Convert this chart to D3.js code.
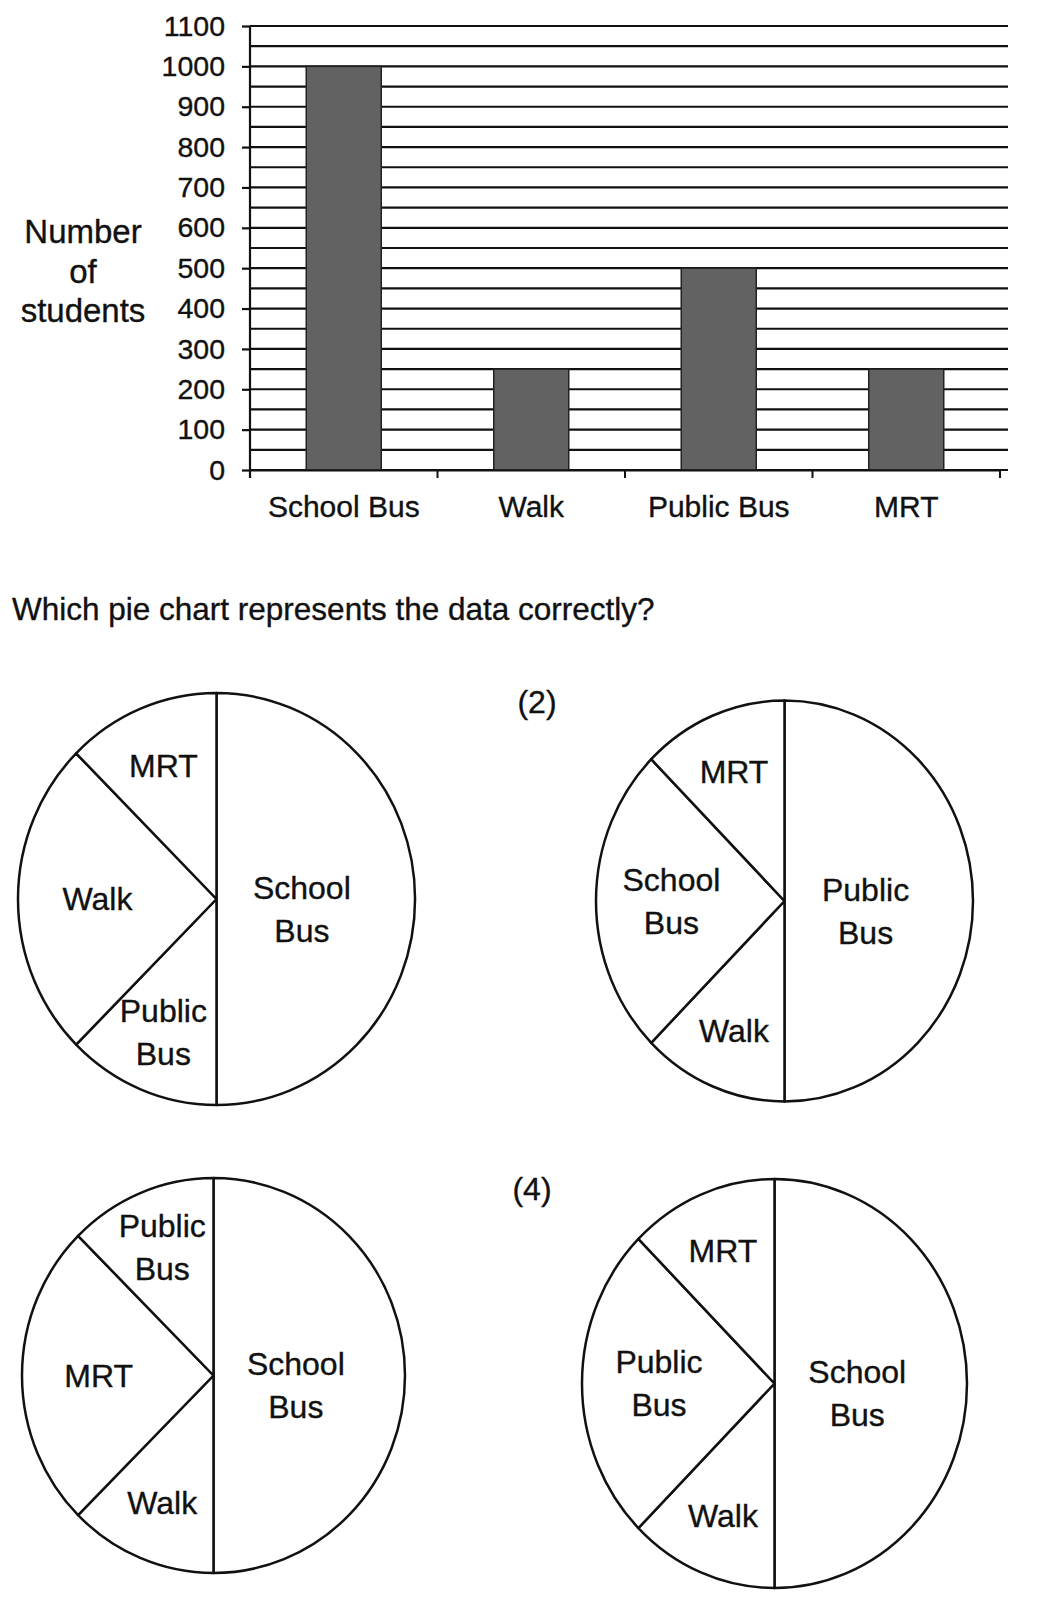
<!DOCTYPE html>
<html lang="en">
<head>
    <meta charset="UTF-8">
    <title>Number of students</title>
    <style>
        body { margin: 0; background: #fff; }
        text { font-family: "Liberation Sans", Arial, sans-serif; fill: #111; stroke: #111; stroke-width: 0.35px; }
    </style>
</head>
<body>
<div id="chart"></div>
<script src="https://cdn.jsdelivr.net/npm/d3@7/dist/d3.min.js"></script>
<script>
    // bar chart data
    const categories = ["School Bus", "Walk", "Public Bus", "MRT"];
    const students = [1000, 250, 500, 250];
    const yTickValues = [0, 100, 200, 300, 400, 500, 600, 700, 800, 900, 1000, 1100];

    // pie options: slices clockwise from 12 o'clock, sizes in degrees
    const pie1Labels = ["School Bus", "Public Bus", "Walk", "MRT"];
    const pie1Degrees = [180, 45, 90, 45];
    const pie2Labels = ["Public Bus", "Walk", "School Bus", "MRT"];
    const pie2Degrees = [180, 45, 90, 45];
    const pie3Labels = ["School Bus", "Walk", "MRT", "Public Bus"];
    const pie3Degrees = [180, 45, 90, 45];
    const pie4Labels = ["School Bus", "Walk", "Public Bus", "MRT"];
    const pie4Degrees = [180, 45, 90, 45];
    const optionTags = ["", "(2)", "", "(4)"];

    const width = 1053,
        height = 1603;

    let svg = d3.select("#chart")
        .append("svg")
        .attr("width", width)
        .attr("height", height);

    // ---- bar chart ----
    const plotLeft = 250, plotRight = 1000, plotTop = 26, plotBottom = 470;

    var y = d3.scaleLinear()
        .domain([0, 1100])
        .range([plotBottom, plotTop]);

    var x = d3.scaleBand()
        .domain(categories)
        .range([plotLeft, plotRight])
        .paddingInner(0.6)
        .paddingOuter(0.3);

    let chart = svg.append("g").classed("bars", true);

    // gridlines every 50
    chart.append("g")
        .selectAll("line")
        .data(d3.range(0, 1101, 50))
        .join("line")
        .attr("x1", plotLeft)
        .attr("x2", plotRight + 8)
        .attr("y1", d => y(d))
        .attr("y2", d => y(d))
        .attr("stroke", "#111")
        .attr("stroke-width", 2.2);

    // y axis
    var yAxis = d3.axisLeft(y)
        .tickValues(yTickValues)
        .tickFormat(d3.format("d"))
        .tickSize(8)
        .tickSizeOuter(0)
        .tickPadding(17);

    let gy = chart.append("g")
        .attr("transform", `translate(${plotLeft}, 0)`)
        .call(yAxis);
    gy.select(".domain").remove();
    gy.selectAll(".tick line").attr("stroke", "#111").attr("stroke-width", 2.2);
    gy.selectAll(".tick text")
        .style("font-family", '"Liberation Sans", Arial, sans-serif')
        .style("font-size", "28.5px")
        .attr("fill", "#111");

    chart.append("line")
        .attr("x1", plotLeft).attr("x2", plotLeft)
        .attr("y1", plotTop).attr("y2", plotBottom + 8)
        .attr("stroke", "#111").attr("stroke-width", 2.2);

    // bars
    chart.append("g")
        .selectAll("rect")
        .data(categories)
        .join("rect")
        .attr("x", d => x(d))
        .attr("y", (d, i) => y(students[i]))
        .attr("width", x.bandwidth())
        .attr("height", (d, i) => y(0) - y(students[i]))
        .attr("fill", "#626262")
        .attr("stroke", "#222")
        .attr("stroke-width", 1.5);

    // x axis with ticks at category boundaries
    var xAxis = d3.axisBottom(x)
        .tickSize(0)
        .tickSizeOuter(0)
        .tickPadding(26);

    let gx = chart.append("g")
        .attr("transform", `translate(0, ${plotBottom})`)
        .call(xAxis);
    gx.select(".domain").attr("stroke", "#111").attr("stroke-width", 2.2);
    gx.selectAll(".tick text")
        .style("font-family", '"Liberation Sans", Arial, sans-serif')
        .style("font-size", "30px")
        .attr("fill", "#111");

    const step = x.step();
    chart.append("g")
        .selectAll("line")
        .data(d3.range(categories.length + 1))
        .join("line")
        .attr("x1", i => plotLeft + i * step)
        .attr("x2", i => plotLeft + i * step)
        .attr("y1", plotBottom)
        .attr("y2", plotBottom + 8)
        .attr("stroke", "#111")
        .attr("stroke-width", 2);

    // y axis title
    chart.append("text")
        .attr("text-anchor", "middle")
        .style("font-size", "33px")
        .selectAll("tspan")
        .data(["Number", "of", "students"])
        .join("tspan")
        .attr("x", 83)
        .attr("y", (d, i) => 243 + i * 39.5)
        .text(d => d);

    // question
    svg.append("text")
        .attr("x", 12)
        .attr("y", 620)
        .style("font-size", "31.5px")
        .text("Which pie chart represents the data correctly?");

    // ---- pie charts ----
    const pieLayout = [
        {cx: 216.5, cy: 899, rx: 198.5, ry: 206},
        {cx: 784.5, cy: 901, rx: 188.5, ry: 200.5},
        {cx: 213.5, cy: 1375.5, rx: 191.5, ry: 197.5},
        {cx: 774.5, cy: 1383.5, rx: 192.5, ry: 204.5}
    ];
    const pieLabels = [pie1Labels, pie2Labels, pie3Labels, pie4Labels];
    const pieDegrees = [pie1Degrees, pie2Degrees, pie3Degrees, pie4Degrees];
    const tagPos = [null, {x: 537, y: 713}, null, {x: 532, y: 1200}];

    var pie = d3.pie().sort(null).value(d => d);

    pieLayout.forEach((p, n) => {
        const k = p.ry / p.rx;
        const slices = pie(pieDegrees[n]);
        let g = svg.append("g").attr("transform", `translate(${p.cx}, ${p.cy})`);

        let shapes = g.append("g").attr("transform", `scale(1, ${k})`);
        var arc = d3.arc().innerRadius(0).outerRadius(p.rx);
        shapes.selectAll("path")
            .data(slices)
            .join("path")
            .attr("d", arc)
            .attr("fill", "#fff")
            .attr("stroke", "#111")
            .attr("stroke-width", 2.5)
            .attr("stroke-linejoin", "round")
            .attr("vector-effect", "non-scaling-stroke");

        slices.forEach((d, i) => {
            const span = d.endAngle - d.startAngle;
            const f = span > Math.PI * 0.9 ? 0.43 : (span > Math.PI * 0.4 ? 0.6 : 0.7);
            const shift = span > Math.PI * 0.9 ? 10 : 0;
            const la = d3.arc().innerRadius(p.rx * f).outerRadius(p.rx * f);
            const c = la.centroid(d);
            const lines = pieLabels[n][i].split(" ");
            g.append("text")
                .attr("text-anchor", "middle")
                .style("font-size", "32px")
                .selectAll("tspan")
                .data(lines)
                .join("tspan")
                .attr("x", c[0])
                .attr("y", (t, j) => c[1] * k + shift + (j - (lines.length - 1) / 2) * 43)
                .attr("dy", "0.35em")
                .text(t => t);
        });

        if (optionTags[n]) {
            svg.append("text")
                .attr("x", tagPos[n].x)
                .attr("y", tagPos[n].y)
                .attr("text-anchor", "middle")
                .style("font-size", "32px")
                .text(optionTags[n]);
        }
    });
</script>
</body>
</html>
